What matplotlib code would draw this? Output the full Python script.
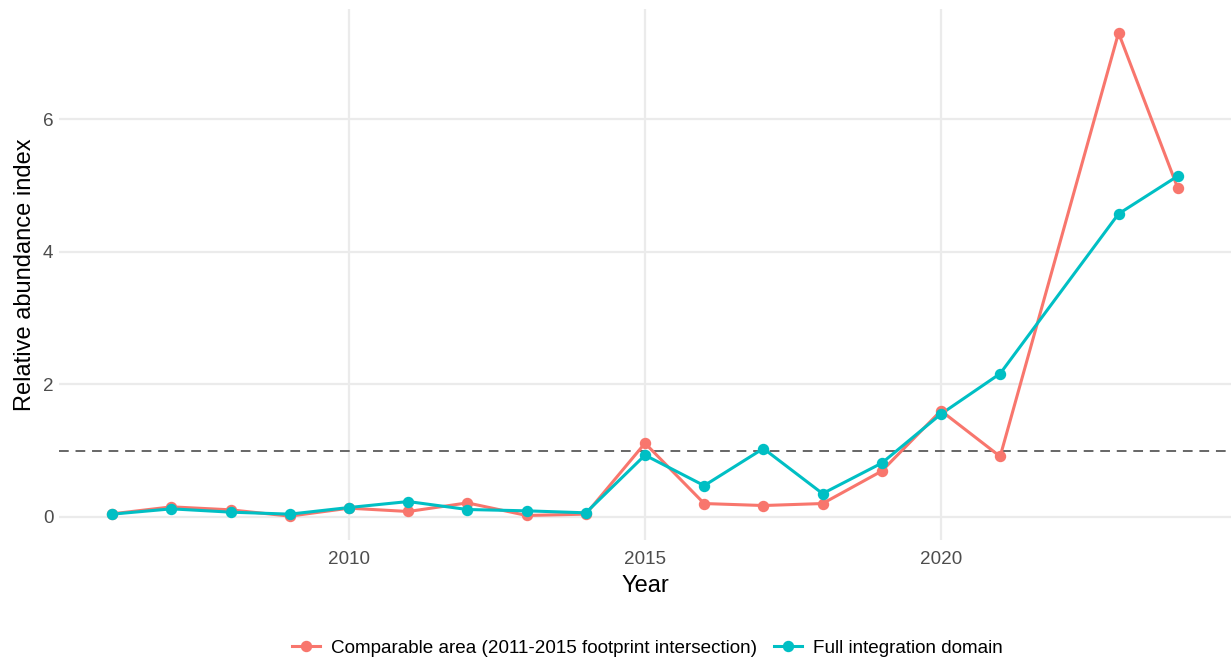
import matplotlib.pyplot as plt
import numpy as np

plt.rcParams["font.family"] = ["Liberation Sans", "DejaVu Sans"]

years = [2006, 2007, 2008, 2009, 2010, 2011, 2012, 2013, 2014, 2015,
         2016, 2017, 2018, 2019, 2020, 2021, 2023, 2024]
comparable = [0.045, 0.15, 0.105, 0.01, 0.13, 0.08, 0.21, 0.02, 0.04, 1.11,
              0.20, 0.17, 0.20, 0.69, 1.60, 0.91, 7.30, 4.96]
full_domain = [0.04, 0.12, 0.07, 0.04, 0.14, 0.23, 0.11, 0.09, 0.06, 0.93,
               0.47, 1.03, 0.35, 0.81, 1.55, 2.16, 4.57, 5.14]
reference_level = 1.0

series_labels = ["Comparable area (2011-2015 footprint intersection)",
                 "Full integration domain"]
COLORS = ["#F8766D", "#00BFC4"]

fig = plt.figure(figsize=(12.31, 6.59), dpi=100)
ax = fig.add_axes([59 / 1231, 1 - 540 / 659, 1 - 59 / 1231, (540 - 9) / 659])

ax.axhline(reference_level, color="#666666", linestyle=(0, (5, 3.5)),
           linewidth=1.4, zorder=2)

series = [comparable, full_domain]
for vals, color in zip(series, COLORS):
    ax.plot(years, vals, color=color, linewidth=2.2, zorder=3)
handles = []
for vals, color, lab in zip(series, COLORS, series_labels):
    ax.plot(years, vals, linestyle="none", marker="o", markersize=7.2,
            color=color, zorder=4)
    h, = ax.plot([], [], color=color, linewidth=2.2, marker="o",
                 markersize=7.2, label=lab)
    handles.append(h)

ax.set_xlim(2005.1, 2024.9)
ax.set_ylim(-0.35, 7.66)
ax.set_xticks([2010, 2015, 2020])
ax.set_yticks([0, 2, 4, 6])

for s in ax.spines.values():
    s.set_visible(False)
ax.grid(True, color="#EBEBEB", linewidth=1.6)
ax.set_axisbelow(True)
ax.tick_params(axis="y", length=0, labelsize=13.6, labelcolor="#4D4D4D", pad=4)
ax.tick_params(axis="x", length=0, labelsize=13.6, labelcolor="#4D4D4D", pad=8)

ax.set_xlabel("Year", fontsize=17, color="black", labelpad=5)
ax.set_ylabel("Relative abundance index", fontsize=17, color="black",
              labelpad=5)

fig.legend(handles=handles, loc="center", bbox_to_anchor=(0.526, 1 - 648 / 659),
           ncol=2, frameon=False, fontsize=13.6, handlelength=1.45,
           handletextpad=0.6, columnspacing=0.9)

fig.savefig("out.png", dpi=100)
